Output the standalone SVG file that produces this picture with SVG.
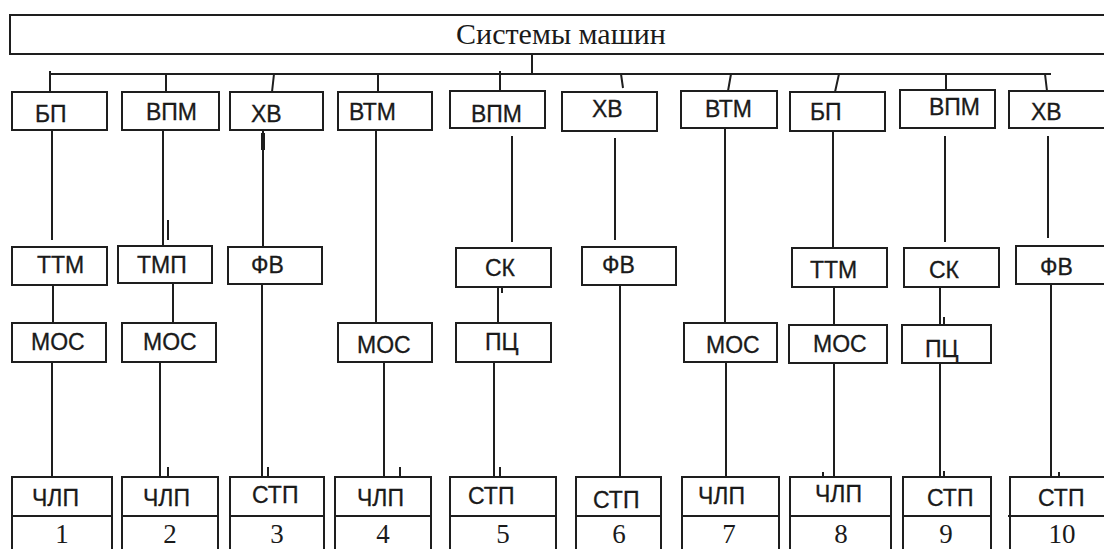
<svg xmlns="http://www.w3.org/2000/svg" width="1104" height="549" viewBox="0 0 1104 549">
<style>
.b{fill:#fff;stroke:#1e1e1e;stroke-width:2}
.c{fill:none;stroke:#1e1e1e;stroke-width:2}
.t{font-family:"Liberation Sans",Arial,sans-serif;font-size:23px;fill:#1a1a1a;stroke:#1a1a1a;stroke-width:0.3}
.n{font-family:"Liberation Serif","Times New Roman",serif;font-size:27px;fill:#1a1a1a;text-anchor:middle}
.h{font-family:"Liberation Serif","Times New Roman",serif;font-size:30px;fill:#1a1a1a;text-anchor:middle}
</style>
<rect width="1104" height="549" fill="#fff"/>
<g id="top">
<rect class="b" x="10" y="15" width="1110" height="39"/>
<text class="h" x="561" y="44">Системы машин</text>
</g>
<g id="connectors">
<path class="c" d="M532 54V74M50 71V92M50 74H1051M166 74V92M274 74L272 92M378 74V92M500 71V91M621 74L623 88M731 74L728 91M839 74L835 92M946 74V90M1045 74L1047 91"/>
<path class="c" d="M52 130V240M53 285V323M52 362V477"/>
<path class="c" d="M163 130V247M168 220V240M173 283V323M160 362V488M168 467V477"/>
<path class="c" d="M263 130V247M262 284V477M268 467V477"/>
<path d="M263 133V150" stroke="#1e1e1e" stroke-width="4"/>
<path class="c" d="M376 130V323M384 362V481M400 467V477"/>
<path class="c" d="M512 136V242M498 287V323M502 287V293M494 362V477M500 467V477"/>
<path class="c" d="M615 138V240M620 285V477"/>
<path class="c" d="M725 128V323M726 362V477"/>
<path class="c" d="M833 131V248M834 287V325M834 363V477M823 472V477"/>
<path class="c" d="M945 136V242M940 287V325M944 317V325M940 363V477M944 471V477"/>
<path class="c" d="M1048 136V238M1051 284V477M1059 472V477"/>
</g>
<g id="n1a"><rect class="b" x="12" y="92" width="95" height="38"/><text class="t" x="35" y="122">БП</text></g>
<g id="n2a"><rect class="b" x="122" y="92" width="97" height="38"/><text class="t" x="146" y="120">ВПМ</text></g>
<g id="n3a"><rect class="b" x="230" y="92" width="93" height="38"/><text class="t" x="251" y="122">ХВ</text></g>
<g id="n4a"><rect class="b" x="338" y="92" width="94" height="38"/><text class="t" x="349" y="120">ВТМ</text></g>
<g id="n5a"><rect class="b" x="450" y="91" width="95" height="37"/><text class="t" x="471" y="122">ВПМ</text></g>
<g id="n6a"><rect class="b" x="562" y="92" width="95" height="39"/><text class="t" x="592" y="117">ХВ</text></g>
<g id="n7a"><rect class="b" x="681" y="91" width="96" height="37"/><text class="t" x="705" y="117">ВТМ</text></g>
<g id="n8a"><rect class="b" x="790" y="92" width="95" height="39"/><text class="t" x="810" y="120">БП</text></g>
<g id="n9a"><rect class="b" x="900" y="90" width="95" height="38"/><text class="t" x="929" y="115">ВПМ</text></g>
<g id="n10a"><rect class="b" x="1009" y="91" width="110" height="37"/><text class="t" x="1031" y="120">ХВ</text></g>
<g id="n1b"><rect class="b" x="12" y="247" width="95" height="38"/><text class="t" x="37" y="273">ТТМ</text></g>
<g id="n2b"><rect class="b" x="118" y="246" width="94" height="37"/><text class="t" x="137" y="273">ТМП</text></g>
<g id="n3b"><rect class="b" x="228" y="247" width="94" height="37"/><text class="t" x="251" y="273">ФВ</text></g>
<g id="n5b"><rect class="b" x="456" y="248" width="95" height="39"/><text class="t" x="485" y="276">СК</text></g>
<g id="n6b"><rect class="b" x="582" y="247" width="94" height="38"/><text class="t" x="602" y="273">ФВ</text></g>
<g id="n8b"><rect class="b" x="792" y="248" width="95" height="39"/><text class="t" x="810" y="278">ТТМ</text></g>
<g id="n9b"><rect class="b" x="904" y="248" width="95" height="39"/><text class="t" x="929" y="278">СК</text></g>
<g id="n10b"><rect class="b" x="1016" y="246" width="110" height="38"/><text class="t" x="1040" y="275">ФВ</text></g>
<g id="n1c"><rect class="b" x="12" y="323" width="94" height="39"/><text class="t" x="31" y="350">МОС</text></g>
<g id="n2c"><rect class="b" x="122" y="323" width="94" height="39"/><text class="t" x="143" y="350">МОС</text></g>
<g id="n4c"><rect class="b" x="338" y="323" width="94" height="39"/><text class="t" x="357" y="353">МОС</text></g>
<g id="n5c"><rect class="b" x="456" y="323" width="95" height="39"/><text class="t" x="485" y="350">ПЦ</text></g>
<g id="n7c"><rect class="b" x="684" y="323" width="93" height="39"/><text class="t" x="706" y="353">МОС</text></g>
<g id="n8c"><rect class="b" x="789" y="325" width="98" height="38"/><text class="t" x="813" y="352">МОС</text></g>
<g id="n9c"><rect class="b" x="902" y="325" width="89" height="38"/><text class="t" x="925" y="357">ПЦ</text></g>
<g id="n1d"><rect class="b" x="12" y="477" width="100" height="90"/><path class="c" d="M12 516H112"/><text class="t" x="32" y="506">ЧЛП</text><text class="n" x="62" y="543">1</text></g>
<g id="n2d"><rect class="b" x="122" y="477" width="96" height="90"/><path class="c" d="M122 516H218"/><text class="t" x="143" y="506">ЧЛП</text><text class="n" x="170" y="543">2</text></g>
<g id="n3d"><rect class="b" x="230" y="477" width="94" height="90"/><path class="c" d="M230 516H324"/><text class="t" x="252" y="503">СТП</text><text class="n" x="277" y="543">3</text></g>
<g id="n4d"><rect class="b" x="335" y="477" width="96" height="90"/><path class="c" d="M335 516H431"/><text class="t" x="357" y="506">ЧЛП</text><text class="n" x="383" y="543">4</text></g>
<g id="n5d"><rect class="b" x="450" y="477" width="106" height="90"/><path class="c" d="M450 516H556"/><text class="t" x="468" y="504">СТП</text><text class="n" x="503" y="543">5</text></g>
<g id="n6d"><rect class="b" x="576" y="477" width="85" height="90"/><path class="c" d="M576 516H661"/><text class="t" x="593" y="508">СТП</text><text class="n" x="619" y="543">6</text></g>
<g id="n7d"><rect class="b" x="682" y="477" width="97" height="90"/><path class="c" d="M682 516H779"/><text class="t" x="698" y="504">ЧЛП</text><text class="n" x="729" y="543">7</text></g>
<g id="n8d"><rect class="b" x="790" y="477" width="101" height="90"/><path class="c" d="M790 516H891"/><text class="t" x="815" y="502">ЧЛП</text><text class="n" x="841" y="543">8</text></g>
<g id="n9d"><rect class="b" x="903" y="477" width="88" height="90"/><path class="c" d="M903 516H991"/><text class="t" x="927" y="506">СТП</text><text class="n" x="946" y="543">9</text></g>
<g id="n10d"><rect class="b" x="1010" y="477" width="110" height="90"/><path class="c" d="M1008 516H1104"/><text class="t" x="1038" y="506">СТП</text><text class="n" x="1062" y="543">10</text></g>
</svg>
